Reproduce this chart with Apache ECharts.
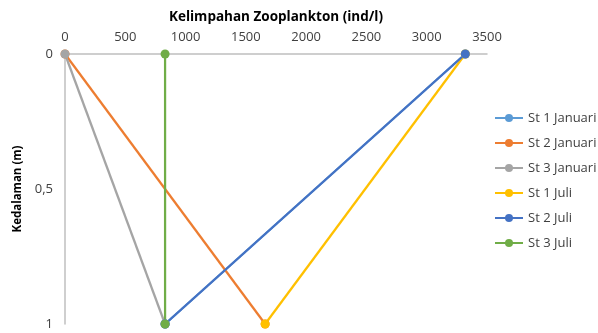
<!DOCTYPE html>
<html>
<head>
<meta charset="utf-8">
<script src="https://cdn.jsdelivr.net/npm/echarts@6/dist/echarts.min.js"></script>
<style>html,body{margin:0;padding:0;background:#fff}#c{width:598px;height:333px}</style>
</head>
<body>
<div id="c"></div>
<script>
const seriesNames = ['St 1 Januari','St 2 Januari','St 3 Januari','St 1 Juli','St 2 Juli','St 3 Juli'];
const depths = [0, 1];
const st1Januari = [3320, 830];
const st2Januari = [0, 1660];
const st3Januari = [0, 830];
const st1Juli = [3320, 1660];
const st2Juli = [3320, 830];
const st3Juli = [830, 830];
const xTicks = [0, 500, 1000, 1500, 2000, 2500, 3000, 3500];
const yTicks = ['0', '0,5', '1'];

const values = [st1Januari, st2Januari, st3Januari, st1Juli, st2Juli, st3Juli];
const colors = ['#5B9BD5','#ED7D31','#A5A5A5','#FFC000','#4472C4','#70AD47'];
const font = 'Open Sans, Noto Sans, sans-serif';

const chart = echarts.init(document.getElementById('c'));
chart.setOption({
  animation: false,
  color: colors,
  grid: {left: 65, top: 54, width: 422, height: 270, containLabel: false},
  legend: {
    orient: 'vertical', left: 489, top: 105, itemWidth: 28, itemHeight: 10, itemGap: 9,
    textStyle: {fontFamily: font, fontSize: 13, color: '#404040', lineHeight: 16},
    data: seriesNames
  },
  xAxis: {
    type: 'value', position: 'top', min: 0, max: 3500, interval: 500,
    name: 'Kelimpahan Zooplankton (ind/l)', nameLocation: 'middle', nameGap: 30,
    nameTextStyle: {fontFamily: font, fontSize: 13.5, fontWeight: 'bold', color: '#000'},
    axisLine: {show: true, lineStyle: {color: '#BFBFBF', width: 1.5}},
    axisTick: {show: false},
    axisLabel: {fontFamily: font, fontSize: 13, color: '#404040', margin: 10,
      formatter: v => String(xTicks[Math.round(v / 500)])},
    splitLine: {show: false}
  },
  yAxis: {
    type: 'value', inverse: true, min: 0, max: 1, interval: 0.5,
    name: 'Kedalaman (m)', nameLocation: 'middle', nameGap: 40, nameRotate: 90,
    nameTextStyle: {fontFamily: font, fontSize: 11.5, fontWeight: 'bold', color: '#000'},
    axisLine: {show: true, lineStyle: {color: '#BFBFBF', width: 1.5}},
    axisTick: {show: false},
    axisLabel: {fontFamily: font, fontSize: 13, color: '#404040', margin: 12,
      formatter: v => yTicks[Math.round(v * 2)]},
    splitLine: {show: false}
  },
  series: seriesNames.map((n, i) => ({
    name: n, type: 'line',
    data: values[i].map((x, j) => [x, depths[j]]),
    symbol: 'circle', symbolSize: 9,
    lineStyle: {width: 2.25, color: colors[i]},
    itemStyle: {color: colors[i]}
  }))
});
</script>
</body>
</html>
